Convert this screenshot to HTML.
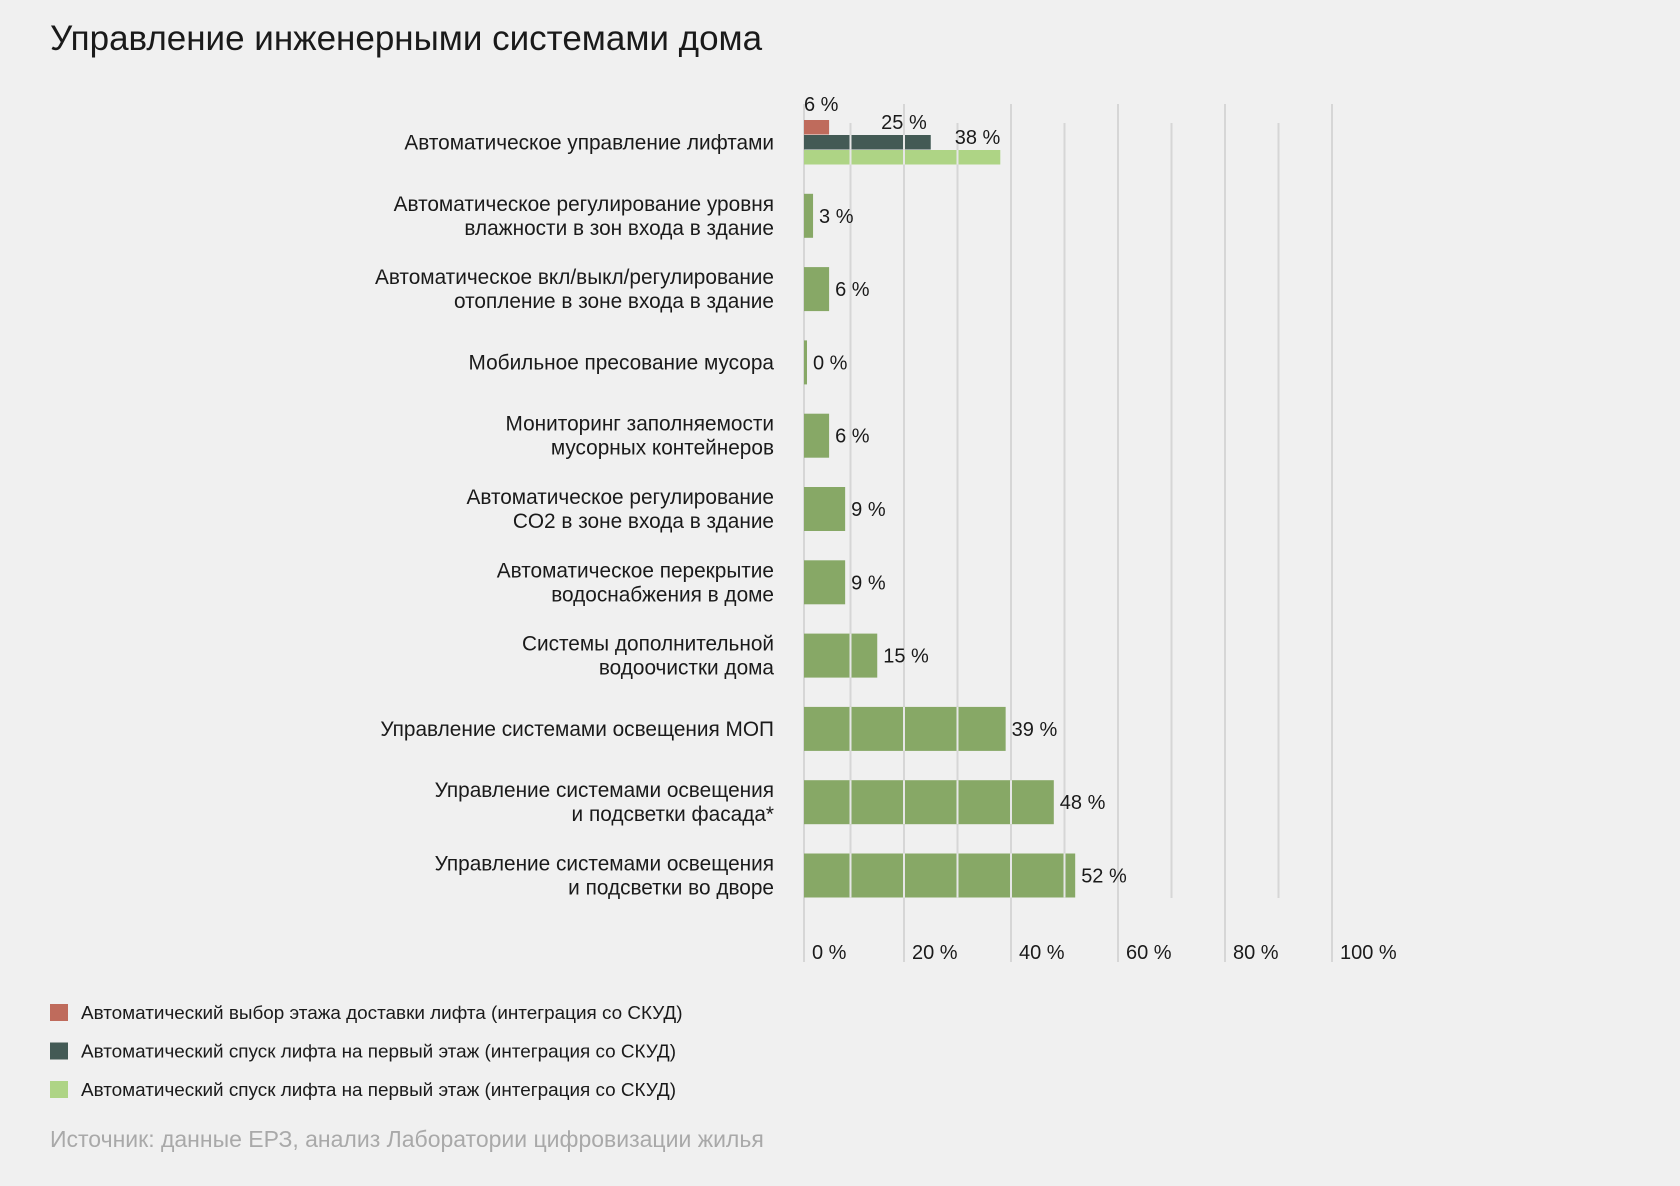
<!DOCTYPE html>
<html><head><meta charset="utf-8">
<style>
html,body{margin:0;padding:0;background:#f0f0f0;}
svg{display:block;font-family:"Liberation Sans",Arial,sans-serif;}
</style></head>
<body>
<svg id="chart" width="1680" height="1186" viewBox="0 0 1680 1186" xmlns="http://www.w3.org/2000/svg">
<rect width="1680" height="1186" fill="#f0f0f0"/>
<text x="50" y="50" font-size="35" fill="#1a1a1a">Управление инженерными системами дома</text>
<g id="grid"></g>
<g id="bars"></g>
<g id="gridTop"></g>
<g id="labels"></g>
<g id="legend"></g>
<text x="50" y="1147" font-size="23" fill="#a9a9a9">Источник: данные ЕРЗ, анализ Лаборатории цифровизации жилья</text>
</svg>
<script>
const categories = [
  ["Автоматическое управление лифтами"],
  ["Автоматическое регулирование уровня","влажности в зон входа в здание"],
  ["Автоматическое вкл/выкл/регулирование","отопление в зоне входа в здание"],
  ["Мобильное пресование мусора"],
  ["Мониторинг заполняемости","мусорных контейнеров"],
  ["Автоматическое регулирование","CO2 в зоне входа в здание"],
  ["Автоматическое перекрытие","водоснабжения в доме"],
  ["Системы дополнительной","водоочистки дома"],
  ["Управление системами освещения МОП"],
  ["Управление системами освещения","и подсветки фасада*"],
  ["Управление системами освещения","и подсветки во дворе"]
];
const mainValues = [null, 3, 6, 0.5, 6, 9, 9, 15, 39, 48, 52];
const mainLabels = ["", "3 %", "6 %", "0 %", "6 %", "9 %", "9 %", "15 %", "39 %", "48 %", "52 %"];
const liftValues = [6, 25, 38];
const liftLabels = ["6 %", "25 %", "38 %"];
const liftSeries = [
  "Автоматический выбор этажа доставки лифта (интеграция со СКУД)",
  "Автоматический спуск лифта на первый этаж (интеграция со СКУД)",
  "Автоматический спуск лифта на первый этаж (интеграция со СКУД)"
];
const ticks = [0, 20, 40, 60, 80, 100];
const tickLabels = ["0 %", "20 %", "40 %", "60 %", "80 %", "100 %"];
const minorTicks = [10, 30, 50, 70, 90];

const NS = "http://www.w3.org/2000/svg";
const liftColors = ["#bf6b5c", "#435a55", "#aed485"];
const green = "#87a866";
const x0 = 804;
function xs(v){ return 797 + 5.35*v; }
function gx(t){ return t===0 ? x0 : xs(t); }
function rowY(i){ return 142.5 + i*73.3; }
function mk(tag, attrs, parent){
  const e = document.createElementNS(NS, tag);
  for (const k in attrs) e.setAttribute(k, attrs[k]);
  parent.appendChild(e); return e;
}
const grid = document.getElementById('grid');
const gridTop = document.getElementById('gridTop');
const bars = document.getElementById('bars');
const labels = document.getElementById('labels');
const legend = document.getElementById('legend');

ticks.forEach((t,i)=>{
  const x = gx(t);
  const l = mk('line',{x1:x,x2:x,y1:104,y2:962,stroke:'#d6d6d6','stroke-width':2},grid);
  
  
  const tx = mk('text',{x:x+8,y:959,'font-size':20,fill:'#1a1a1a'},labels);
  tx.textContent = tickLabels[i];
  
  
});
minorTicks.forEach(t=>{
  const x = xs(t);
  const l = mk('line',{x1:x,x2:x,y1:123,y2:898,stroke:'#d6d6d6','stroke-width':2},grid);
  
  
});

categories.forEach((lines,i)=>{
  const cy = rowY(i);
  const n = lines.length;
  lines.forEach((s,j)=>{
    const t = mk('text',{x:774,y:cy + (j-(n-1)/2)*24 + 7,'font-size':20.8,fill:'#1a1a1a','text-anchor':'end'},labels);
    t.textContent = s;
    
    
  });
  const segs = [];
  if (i===0){
    liftValues.forEach((v,k)=>{
      const y = 120 + k*15;
      const w = Math.max(xs(v)-x0, 3);
      const r = mk('rect',{x:x0,y:y,width:w,height:14.5,fill:liftColors[k]},bars);
      
      
      segs.push([x0+w,y,14.5]);
      const tx = mk('text',{'font-size':20,fill:'#1a1a1a'},labels);
      if (k===0){ tx.setAttribute('x',x0); tx.setAttribute('y',111); }
      else { tx.setAttribute('x',x0+w-(k===1?4:0)); tx.setAttribute('y',y-6); tx.setAttribute('text-anchor','end'); }
      tx.textContent = liftLabels[k];
      
      
    });
  } else {
    const v = mainValues[i];
    const w = Math.max(xs(v)-x0, 3);
    const r = mk('rect',{x:x0,y:cy-22,width:w,height:44,fill:green},bars);
    
    
    segs.push([x0+w,cy-22,44]);
    const tx = mk('text',{x:x0+w+6,y:cy+7,'font-size':20,fill:'#1a1a1a'},labels);
    tx.textContent = mainLabels[i];
    
    
  }
  segs.forEach(([xe,y,h])=>{
    ticks.concat(minorTicks).forEach(t=>{
      const x = xs(t);
      if (t>0 && x < xe-1){
        const l = mk('line',{x1:x,x2:x,y1:y,y2:y+h,stroke:'#e6e6e6','stroke-width':2},gridTop);
        
        
      }
    });
  });
});

liftSeries.forEach((s,k)=>{
  const y = 1004 + k*38.5;
  const r = mk('rect',{x:50,y:y,width:18,height:17,fill:liftColors[k]},legend);
  
  
  const t = mk('text',{x:81,y:y+15,'font-size':18.9,fill:'#1a1a1a'},legend);
  t.textContent = s;
  
  
});
</script>
</body></html>
